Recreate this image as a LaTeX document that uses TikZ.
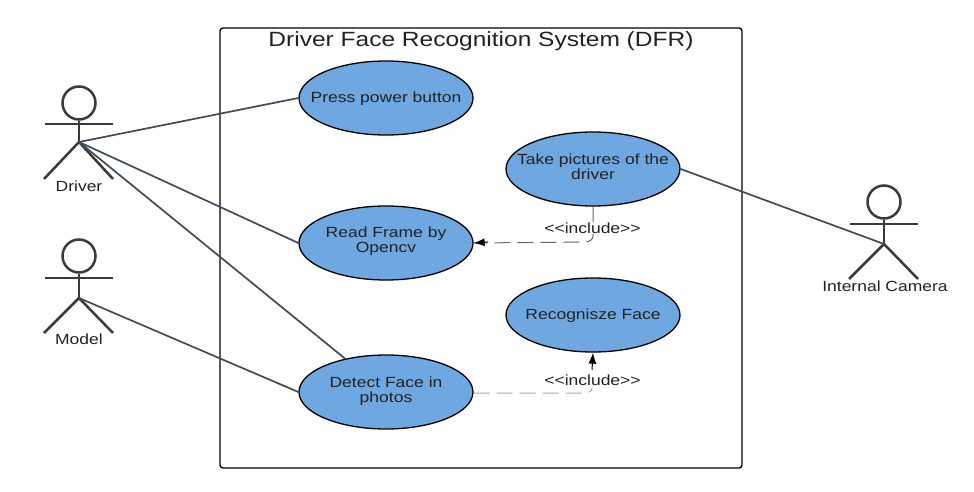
\documentclass[tikz,border=0pt]{standalone}
\usepackage{fontspec}
\setmainfont[FakeStretch=1.19]{Liberation Sans}
\usetikzlibrary{arrows.meta,shapes.geometric}
\definecolor{ucfill}{HTML}{6FA8E0}
\definecolor{actorink}{HTML}{3A3A3A}
\definecolor{linkink}{HTML}{3F4A5A}
\definecolor{textink}{HTML}{222222}
\tikzset{
  x=1pt,y=-1pt,
  usecase/.style={ellipse,draw=black,line width=1.3pt,fill=ucfill,minimum width=174pt,minimum height=74pt,inner sep=0pt,text=textink,font=\fontsize{14.7}{14.2}\selectfont},
  actorline/.style={draw=actorink,line width=2.5pt},
  link/.style={draw=linkink,line width=1.7pt},
  dashlink/.style={draw=#1,line width=1pt,dash pattern=on 16pt off 7pt},
  tip/.style={-{Latex[length=11pt,width=8pt]},draw=black,line width=1pt},
  lbl/.style={inner sep=1pt,text=textink,font=\fontsize{14.7}{16}\selectfont},
  inclbl/.style={inner sep=1pt,fill=white,text=textink,font=\fontsize{14.7}{16}\selectfont}
}
\newcommand{\uctext}[3]{\makebox[0pt]{\smash{\raisebox{#3}{\begin{tabular}[b]{@{}c@{}}#1\\#2\end{tabular}}}}}
\newcommand{\ucone}[2]{\makebox[0pt]{\smash{\raisebox{#2}{#1}}}}
\newcommand{\stickman}[6]{% name, x, headY, armY, hipY, feetY
  \node[circle,actorline,minimum size=33pt,inner sep=0pt] (#1head) at (#2,#3) {};
  \coordinate (#1hip) at (#2,#5);
  \coordinate (#1arml) at (#2-34,#4);
  \coordinate (#1armr) at (#2+34,#4);
  \coordinate (#1footl) at (#2-35,#6);
  \coordinate (#1footr) at (#2+34,#6);
  \draw[actorline] (#1head) -- (#1hip);
  \draw[actorline] (#1arml) -- (#1armr);
  \draw[actorline] (#1footl) -- (#1hip) -- (#1footr);
}
\begin{document}
\begin{tikzpicture}
\useasboundingbox (0,0) rectangle (974,492);
\node[draw=black,line width=1.4pt,rounded corners=3pt,minimum width=522pt,minimum height=440pt,inner sep=0pt] (system) at (481,248) {};
\node[font=\fontsize{20.6}{22}\selectfont,text=textink,inner sep=0pt] (title) at (481,41.5) {Driver Face Recognition System (DFR)};
\node[usecase] (press) at (386,98) {\ucone{Press power button}{-5pt}};
\node[usecase] (take) at (593,169) {\uctext{Take pictures of the}{driver}{-10.5pt}};
\node[usecase] (read) at (386,243) {\uctext{Read Frame by}{Opencv}{-9.5pt}};
\node[usecase] (recog) at (593,315) {\ucone{Recognisze Face}{-4pt}};
\node[usecase] (detect) at (386,392) {\uctext{Detect Face in}{photos}{-10.5pt}};
\stickman{driver}{79}{103}{124}{142}{179}
\stickman{model}{79}{256}{278}{298}{333}
\stickman{camera}{884}{202}{224}{244}{279}
\node[lbl] (driverlbl) at (79,186) {Driver};
\node[lbl] (modellbl) at (79,339) {Model};
\node[lbl] (cameralbl) at (885,286) {Internal Camera};
\draw[link] (driverhip) -- (press.west);
\draw[link] (driverhip) -- (read.west);
\draw[link] (driverhip) -- (detect);
\draw[link] (modelhip) -- (detect.west);
\draw[link] (take.east) -- (camerahip);
\coordinate (incA) at (593,242);
\coordinate (incB) at (592,393);
\draw[dashlink=black!60] (take.south) -- (593,236) to[out=-90,in=0] (585,242) -- (read.east);
\draw[tip] (488,242) -- (read.east);
\draw[dashlink=black!35] (detect.east |- incB) -- (584,393) to[out=0,in=-90] (592,388);
\draw[tip] (592,370) -- (recog.south);
\node[inclbl] (inc1) at (592.5,228) {<{}<include>{}>};
\node[inclbl] (inc2) at (592.5,380) {<{}<include>{}>};
\end{tikzpicture}
\end{document}
